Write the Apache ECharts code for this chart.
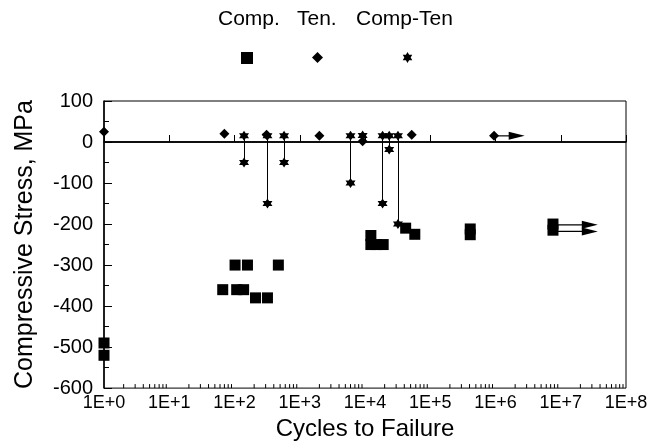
<!DOCTYPE html>
<html>
<head>
<meta charset="utf-8">
<script src="https://cdn.jsdelivr.net/npm/echarts@6/dist/echarts.min.js"></script>
<style>
html,body{margin:0;padding:0;background:#fff;}
#c{width:659px;height:446px;}
</style>
</head>
<body>
<div id="c"></div>
<script>
// ---- data ----
var xTickLabels = ['1E+0','1E+1','1E+2','1E+3','1E+4','1E+5','1E+6','1E+7','1E+8'];
var yTicks = [100, 0, -100, -200, -300, -400, -500, -600];

// Compression tests (squares)
var compX = [1, 1, 66, 102, 158, 108, 138, 210, 320, 470, 12300, 12300, 15000, 19000, 42000, 58000, 410000, 410000, 7600000, 7600000];
var compY = [-490, -520, -360, -300, -300, -360, -360, -380, -380, -300, -228, -250, -250, -250, -210, -225, -212, -226, -200, -215];
// compression run-outs (arrows)
var compRunFromX = [7600000, 7600000];
var compRunToX = [37000000, 37000000];
var compRunY = [-202, -218];

// Tension tests (diamonds)
var tenX = [1, 70, 310, 2000, 9200, 52000, 950000];
var tenY = [25, 20, 18, 15, 2, 18, 15];
var tenRunFromX = [950000];
var tenRunToX = [2800000];
var tenRunY = [15];

// Compression-tension tests (stars): tension end and compression end
var ctX = [140, 320, 575, 6000, 9200, 18600, 23500, 32000];
var ctTop = [15, 15, 15, 15, 16, 15, 15, 15];
var ctBot = [-50, -150, -50, -100, 16, -150, -18, -200];

// minor log ticks
var minorTicks = [];
for (var k = 0; k < 8; k++) for (var m = 2; m <= 9; m++) minorTicks.push(m * Math.pow(10, k));

// ---- build ----
var starPath = 'path://M0,-10L2.887,-5L8.66,-5L5.774,0L8.66,5L2.887,5L0,10L-2.887,5L-8.66,5L-5.774,0L-8.66,-5L-2.887,-5Z';
var FONT = 'Liberation Sans';

var compData = compX.map(function (x, i) { return [x, compY[i]]; });
var tenData = tenX.map(function (x, i) { return [x, tenY[i]]; });
var ctData = [];
var ctLines = [];
ctX.forEach(function (x, i) {
  ctData.push([x, ctTop[i]]);
  if (ctBot[i] !== ctTop[i]) {
    ctData.push([x, ctBot[i]]);
    ctLines.push([{ coord: [x, ctTop[i]] }, { coord: [x, ctBot[i]] }]);
  }
});
var arrowData = [];
compRunFromX.forEach(function (x, i) { arrowData.push([x, compRunToX[i], compRunY[i]]); });
tenRunFromX.forEach(function (x, i) { arrowData.push([x, tenRunToX[i], tenRunY[i]]); });

var chart = echarts.init(document.getElementById('c'), null, { renderer: 'canvas' });
var option = {
  animation: false,
  backgroundColor: '#fff',
  textStyle: { fontFamily: FONT, color: '#000' },
  grid: { left: 104, right: 33, top: 101, bottom: 54, show: true, borderColor: '#000', borderWidth: 1, backgroundColor: 'transparent' },
  legend: [
    { data: ['Comp.'], left: 236, top: 47, itemWidth: 12, itemHeight: 12, itemGap: 0, formatter: function () { return ''; }, selectedMode: false },
    { data: ['Ten.'], left: 307, top: 47, itemWidth: 11, itemHeight: 11, itemGap: 0, formatter: function () { return ''; }, selectedMode: false },
    { data: ['Comp-Ten'], left: 397, top: 47, itemWidth: 11, itemHeight: 11, itemGap: 0, formatter: function () { return ''; }, selectedMode: false }
  ],
  graphic: [
    { type: 'text', left: 218, top: 9, style: { text: 'Comp.', font: '21px "' + FONT + '"', fill: '#000' } },
    { type: 'text', left: 297, top: 9, style: { text: 'Ten.', font: '21px "' + FONT + '"', fill: '#000' } },
    { type: 'text', left: 356, top: 9, style: { text: 'Comp-Ten', font: '21px "' + FONT + '"', fill: '#000' } }
  ],
  xAxis: {
    type: 'log', logBase: 10, min: 1, max: 1e8, splitNumber: 8,
    name: 'Cycles to Failure', nameLocation: 'middle', nameGap: 27,
    nameTextStyle: { fontSize: 24, fontFamily: FONT, color: '#000' },
    axisLine: { lineStyle: { color: '#000', width: 1.5 } },
    axisTick: { inside: true, length: 7, lineStyle: { color: '#000' } },
    axisLabel: { fontSize: 18, fontFamily: FONT, color: '#000', margin: 6,
      formatter: function (v) { return xTickLabels[Math.round(Math.log10(v))]; } },
    splitLine: { show: false }
  },
  yAxis: {
    type: 'value', min: -600, max: 100, interval: 100,
    name: 'Compressive Stress, MPa', nameLocation: 'middle', nameGap: 66,
    nameTextStyle: { fontSize: 25, fontFamily: FONT, color: '#000' },
    axisLine: { lineStyle: { color: '#000', width: 1.5 } },
    axisTick: { inside: true, length: 8, lineStyle: { color: '#000' } },
    minorTick: { show: true, splitNumber: 2, length: 5, lineStyle: { color: '#000' } },
    axisLabel: { fontSize: 20, fontFamily: FONT, color: '#000', margin: 11,
      formatter: function (v) { return yTicks.indexOf(v) >= 0 ? String(v) : ''; } },
    splitLine: { show: false }
  },
  series: [
    {
      name: 'minor', type: 'custom', silent: true, data: minorTicks.map(function (v) { return [v, -600]; }),
      renderItem: function (params, api) {
        var p = api.coord([api.value(0), api.value(1)]);
        return { type: 'line', shape: { x1: p[0], y1: p[1], x2: p[0], y2: p[1] - 4 }, style: { stroke: '#000', lineWidth: 1 } };
      },
      z: 1
    },
    {
      name: 'arrows', type: 'custom', silent: true, data: arrowData,
      renderItem: function (params, api) {
        var p1 = api.coord([api.value(0), api.value(2)]);
        var p2 = api.coord([api.value(1), api.value(2)]);
        return {
          type: 'group',
          children: [
            { type: 'line', shape: { x1: p1[0], y1: p1[1], x2: p2[0] - 10, y2: p2[1] }, style: { stroke: '#000', lineWidth: 1.2 } },
            { type: 'polygon', shape: { points: [[p2[0], p2[1]], [p2[0] - 16, p2[1] - 4], [p2[0] - 16, p2[1] + 4]] }, style: { fill: '#000' } }
          ]
        };
      },
      z: 2
    },
    {
      name: 'Comp.', type: 'scatter', symbol: 'rect', symbolSize: 11,
      itemStyle: { color: '#000', opacity: 1 }, data: compData, z: 3
    },
    {
      name: 'Ten.', type: 'scatter', symbol: 'diamond', symbolSize: [10, 10],
      itemStyle: { color: '#000', opacity: 1 }, data: tenData, z: 3,
      markLine: {
        silent: true, symbol: 'none',
        lineStyle: { color: '#000', width: 1.5, type: 'solid' }, label: { show: false },
        emphasis: { disabled: true },
        data: [{ yAxis: 0 }]
      }
    },
    {
      name: 'Comp-Ten', type: 'scatter', symbol: starPath, symbolSize: 10,
      itemStyle: { color: '#000', opacity: 1 }, data: ctData, z: 4,
      markLine: {
        silent: true, symbol: 'none',
        lineStyle: { color: '#000', width: 1, type: 'solid' }, label: { show: false },
        emphasis: { disabled: true },
        data: ctLines
      }
    }
  ]
};
chart.setOption(option);
</script>
</body>
</html>
